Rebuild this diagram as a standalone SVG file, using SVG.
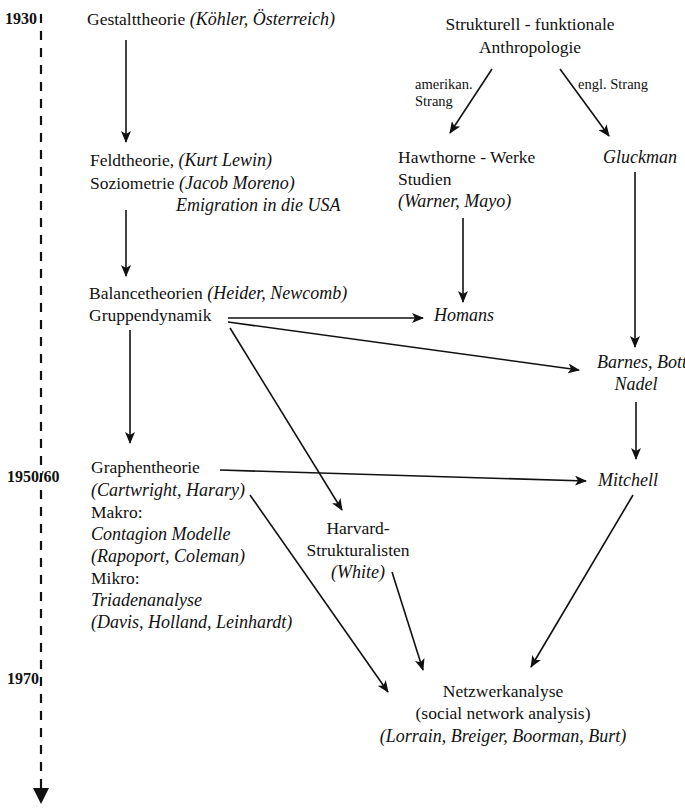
<svg xmlns="http://www.w3.org/2000/svg" width="685" height="809" viewBox="0 0 685 809">
  <style>
    text { font-family: "Liberation Serif", "Times New Roman", serif; font-size: 17.5px; fill: #111; }
    .it { font-style: italic; font-size: 18px; }
    .yr { font-weight: bold; font-size: 16px; }
    .sm { font-size: 14.5px; }
    .mid { text-anchor: middle; }
    .edge { stroke: #111; stroke-width: 1.6; fill: none; marker-end: url(#arr); }
  </style>
  <defs>
    <marker id="arr" markerUnits="userSpaceOnUse" markerWidth="12" markerHeight="10" refX="11" refY="5" orient="auto">
      <path d="M0,0 L12,5 L0,10 L3,5 Z" fill="#111"/>
    </marker>
  </defs>
  <rect width="685" height="809" fill="#fff"/>

  <!-- time axis -->
  <g id="axis">
    <line x1="41" y1="14" x2="41" y2="788" stroke="#111" stroke-width="2.2" stroke-dasharray="9 8"/>
    <path d="M33,788 L49,788 L41,804 Z" fill="#111"/>
    <text class="yr" x="5" y="24">1930</text>
    <text class="yr" x="7" y="482">1950/60</text>
    <text class="yr" x="7" y="684">1970</text>
  </g>

  <!-- connectors -->
  <g id="connectors">
    <line class="edge" x1="126" y1="40" x2="126" y2="142"/>
    <line class="edge" x1="126" y1="210" x2="126" y2="276"/>
    <line class="edge" x1="130" y1="330" x2="130" y2="443"/>
    <line class="edge" x1="492" y1="69" x2="450" y2="133"/>
    <line class="edge" x1="560" y1="69" x2="609" y2="136"/>
    <line class="edge" x1="463" y1="218" x2="463" y2="302"/>
    <line class="edge" x1="228" y1="318" x2="423" y2="318"/>
    <line class="edge" x1="635" y1="172" x2="635" y2="347"/>
    <line class="edge" x1="228" y1="322" x2="579" y2="370"/>
    <line class="edge" x1="636" y1="402" x2="636" y2="459"/>
    <line class="edge" x1="220" y1="470" x2="586" y2="481"/>
    <line class="edge" x1="230" y1="328" x2="342" y2="510"/>
    <line class="edge" x1="392" y1="572" x2="423" y2="670"/>
    <line class="edge" x1="250" y1="495" x2="388" y2="692"/>
    <line class="edge" x1="633" y1="495" x2="531" y2="667"/>
  </g>

  <!-- nodes -->
  <g id="gestalt">
    <text x="87" y="25">Gestalttheorie<tspan class="it"> (Köhler, Österreich)</tspan></text>
  </g>
  <g id="feldtheorie">
    <text x="90" y="166">Feldtheorie, <tspan class="it">(Kurt Lewin)</tspan></text>
    <text x="90" y="189">Soziometrie <tspan class="it">(Jacob Moreno)</tspan></text>
    <text class="it" x="176" y="211">Emigration in die USA</text>
  </g>
  <g id="balance">
    <text x="89" y="299">Balancetheorien<tspan class="it"> (Heider, Newcomb)</tspan></text>
    <text x="89" y="321">Gruppendynamik</text>
  </g>
  <g id="graphentheorie">
    <text x="91" y="473">Graphentheorie</text>
    <text class="it" x="91" y="496">(Cartwright, Harary)</text>
    <text x="91" y="518">Makro:</text>
    <text class="it" x="91" y="540">Contagion Modelle</text>
    <text class="it" x="91" y="562">(Rapoport, Coleman)</text>
    <text x="91" y="584">Mikro:</text>
    <text class="it" x="91" y="606">Triadenanalyse</text>
    <text class="it" x="91" y="628">(Davis, Holland, Leinhardt)</text>
  </g>
  <g id="anthropologie">
    <text class="mid" x="530" y="30">Strukturell - funktionale</text>
    <text class="mid" x="530" y="53">Anthropologie</text>
    <text class="sm" x="415" y="89">amerikan.</text>
    <text class="sm" x="415" y="106">Strang</text>
    <text class="sm" x="578" y="89">engl. Strang</text>
  </g>
  <g id="hawthorne">
    <text x="398" y="163">Hawthorne - Werke</text>
    <text x="398" y="185">Studien</text>
    <text class="it" x="398" y="207">(Warner, Mayo)</text>
  </g>
  <g id="homans">
    <text class="it" x="434" y="321">Homans</text>
  </g>
  <g id="gluckman">
    <text class="it" x="603" y="163">Gluckman</text>
  </g>
  <g id="barnes">
    <text class="it" x="597" y="368">Barnes, Bott</text>
    <text class="it mid" x="636" y="390">Nadel</text>
  </g>
  <g id="mitchell">
    <text class="it" x="598" y="486">Mitchell</text>
  </g>
  <g id="harvard">
    <text class="mid" x="358" y="534">Harvard-</text>
    <text class="mid" x="358" y="556">Strukturalisten</text>
    <text class="it mid" x="358" y="578">(White)</text>
  </g>
  <g id="netzwerk">
    <text class="mid" x="503" y="697">Netzwerkanalyse</text>
    <text class="mid" x="503" y="719">(social network analysis)</text>
    <text class="it mid" x="503" y="742">(Lorrain, Breiger, Boorman, Burt)</text>
  </g>
</svg>
